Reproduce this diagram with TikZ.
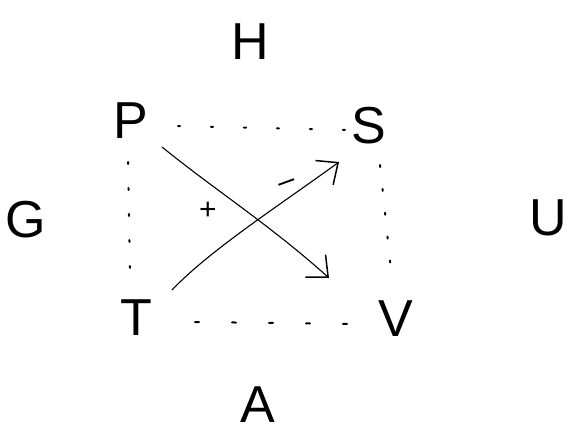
\documentclass[tikz,border=0pt]{standalone}
\usepackage{fontspec}
\setmainfont{Liberation Sans}
\usetikzlibrary{arrows.meta}
\begin{document}
\begin{tikzpicture}[x=1pt,y=-1pt,
  lbl/.style={font=\fontsize{52}{56}\selectfont, inner sep=0pt, anchor=center},
  small/.style={font=\fontsize{30}{32}\selectfont, inner sep=0pt},
  dotline/.style={line width=2pt, dash pattern=on 2pt off 31pt, line cap=round},
  arr/.style={line width=1.1pt, -{Straight Barb[length=17pt,width=30pt,line width=1.5pt]}}]
\useasboundingbox (0,0) rectangle (569,436);
\fill[white] (0,0) rectangle (569,436);
\node[lbl] (H) at (250,42) {H};
\node[lbl] (P) at (131,121) {P};
\node[lbl] (S) at (369,126) {S};
\node[lbl] (G) at (26,220) {G};
\node[lbl] (U) at (548,218) {U};
\node[lbl] (T) at (136,318) {T};
\node[lbl] (V) at (396,319) {V};
\node[lbl] (A) at (258,405) {A};
\coordinate (p1) at (162,147);
\coordinate (v1) at (329,278);
\coordinate (t1) at (172,290);
\coordinate (s1) at (339,162);
\draw[arr] (p1) .. controls (215,190) and (270,225) .. (v1);
\draw[arr] (t1) .. controls (210,250) and (280,205) .. (s1);
\node[small] (plus) at (208,211) {+};
\node[small, rotate=20] (minus) at (288,186) {\textendash};
\coordinate (ps0) at (178,126);
\coordinate (ps1) at (354,130);
\coordinate (pt0) at (128,162);
\coordinate (pt1) at (130,268);
\coordinate (sv0) at (380,165);
\coordinate (sv1) at (392,280);
\coordinate (tv0) at (195,322);
\coordinate (tv1) at (355,324);
\draw[dotline] (ps0) -- (ps1);
\draw[dotline, dash pattern=on 2pt off 24pt] (pt0) -- (pt1);
\draw[dotline, dash pattern=on 2pt off 22pt] (sv0) -- (sv1);
\draw[dotline, dash pattern=on 4pt off 33pt] (tv0) -- (tv1);
\end{tikzpicture}
\end{document}
